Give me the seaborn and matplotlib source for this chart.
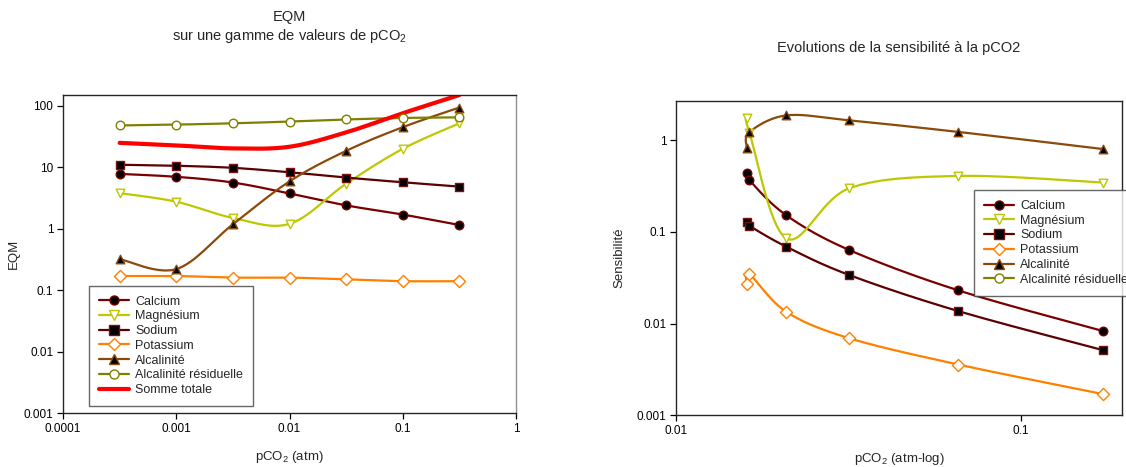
import numpy as np
import matplotlib
matplotlib.use("Agg")
import matplotlib.pyplot as plt
from matplotlib.lines import Line2D
from matplotlib.ticker import FixedLocator, FuncFormatter, NullLocator
import seaborn as sns

# --- EQM sur une gamme de pCO2 ---
pco2_eqm = [0.000316, 0.001, 0.00316, 0.01, 0.0316, 0.1, 0.316]
eqm_calcium = [7.8, 7.0, 5.65, 3.75, 2.4, 1.7, 1.15]
eqm_magnesium = [3.8, 2.75, 1.5, 1.2, 5.4, 20, 52]
eqm_sodium = [11.0, 10.6, 9.8, 8.3, 6.8, 5.7, 4.85]
eqm_potassium = [0.17, 0.17, 0.16, 0.16, 0.15, 0.14, 0.14]
eqm_alcalinite = [0.32, 0.22, 1.18, 5.9, 18.5, 45, 94]
eqm_alc_residuelle = [48, 49.5, 52, 55.5, 60, 63.5, 65]
eqm_somme = [25, 22.7, 20.3, 21.6, 37, 76, 150]

# --- Sensibilité à la pCO2 ---
pco2_sens = [0.01604, 0.01633, 0.0209, 0.0318, 0.066, 0.174]
sens_calcium = [0.446, 0.368, 0.152, 0.0636, 0.023, 0.00825]
sens_magnesium = [1.76, 1.22, 0.085, 0.30, 0.41, 0.347]
sens_sodium = [0.129, 0.117, 0.069, 0.0339, 0.01365, 0.0051]
sens_potassium = [0.0268, 0.0345, 0.0134, 0.00691, 0.00356, 0.00169]
sens_alcalinite = [0.826, 1.236, 1.88, 1.66, 1.24, 0.805]

# style des séries : (couleur ligne, marqueur, remplissage, bord)
styles = {
    "Calcium": ("#7a0000", "o", "black", "#7a0000"),
    "Magnésium": ("#bcc800", "v", "white", "#bcc800"),
    "Sodium": ("#5c0000", "s", "black", "#7a1010"),
    "Potassium": ("#ff8000", "D", "white", "#ff8000"),
    "Alcalinité": ("#8b4a0a", "^", "black", "#8b4a0a"),
    "Alcalinité résiduelle": ("#808000", "o", "white", "#808000"),
}

sns.set_style("ticks")
plt.rcParams["font.family"] = ["Liberation Sans", "DejaVu Sans"]
plt.rcParams["mathtext.default"] = "regular"


def lisse(x, y, n=30):
    # spline de Catmull-Rom dans l'espace log-log (tracé lissé type SigmaPlot)
    lx, ly = np.log10(x), np.log10(y)
    px = np.r_[lx[0], lx, lx[-1]]
    py = np.r_[ly[0], ly, ly[-1]]
    t = np.linspace(0, 1, n)
    xs, ys = [], []
    for i in range(1, len(px) - 2):
        for p, out in ((px, xs), (py, ys)):
            p0, p1, p2, p3 = p[i - 1], p[i], p[i + 1], p[i + 2]
            out.append(0.5 * ((2 * p1) + (-p0 + p2) * t
                              + (2 * p0 - 5 * p1 + 4 * p2 - p3) * t ** 2
                              + (-p0 + 3 * p1 - 3 * p2 + p3) * t ** 3))
    return 10 ** np.concatenate(xs), 10 ** np.concatenate(ys)


def trace(ax, x, y, nom):
    c, m, fc, ec = styles[nom]
    xs, ys = lisse(x, y)
    sns.lineplot(x=xs, y=ys, sort=False, estimator=None, color=c, lw=1.6, ax=ax)
    sns.scatterplot(x=x, y=y, marker=m, s=38, color=fc, edgecolor=ec,
                    linewidth=1.0, ax=ax, zorder=3)


def poignee(nom):
    c, m, fc, ec = styles[nom]
    return Line2D([], [], color=c, lw=1.6, marker=m, mfc=fc, mec=ec, ms=6.5)


fmt = FuncFormatter(lambda v, p: "{:g}".format(v))
opts_leg = dict(fontsize=9, frameon=True, fancybox=False, edgecolor="#404040",
                handlelength=2.4, handletextpad=0.5, labelspacing=0.22,
                borderpad=0.8, borderaxespad=0)

fig = plt.figure(figsize=(11.26, 4.67), dpi=100)
ax1 = fig.add_axes([0.0560, 0.1156, 0.4023, 0.6809])
ax2 = fig.add_axes([0.6004, 0.1113, 0.3961, 0.6724])

for ax in (ax1, ax2):
    ax.set_xscale("log")
    ax.set_yscale("log")

# --- graphique EQM ---
trace(ax1, pco2_eqm, eqm_calcium, "Calcium")
trace(ax1, pco2_eqm, eqm_magnesium, "Magnésium")
trace(ax1, pco2_eqm, eqm_sodium, "Sodium")
trace(ax1, pco2_eqm, eqm_potassium, "Potassium")
trace(ax1, pco2_eqm, eqm_alcalinite, "Alcalinité")
trace(ax1, pco2_eqm, eqm_alc_residuelle, "Alcalinité résiduelle")
xs, ys = lisse(pco2_eqm, eqm_somme)
sns.lineplot(x=xs, y=ys, sort=False, estimator=None, color="#ff0000", lw=3, ax=ax1)

ax1.set_xlim(1e-4, 1)
ax1.set_ylim(1e-3, 150)
ax1.xaxis.set_major_locator(FixedLocator([1e-4, 1e-3, 1e-2, 1e-1, 1]))
ax1.yaxis.set_major_locator(FixedLocator([1e-3, 1e-2, 1e-1, 1, 10, 100]))
ax1.set_xlabel("pCO$_2$ (atm)", fontsize=9.5, labelpad=10)
ax1.set_ylabel("EQM", fontsize=9.5, labelpad=3)
ax1.spines["right"].set_color("#909090")

noms = list(styles.keys())
h1 = [poignee(n) for n in noms] + [Line2D([], [], color="#ff0000", lw=3)]
leg1 = ax1.legend(h1, noms + ["Somme totale"], loc="lower left",
                  bbox_to_anchor=(0.057, 0.022), **opts_leg)
leg1.get_frame().set_linewidth(1.0)

# --- graphique sensibilité ---
trace(ax2, pco2_sens, sens_calcium, "Calcium")
trace(ax2, pco2_sens, sens_magnesium, "Magnésium")
trace(ax2, pco2_sens, sens_sodium, "Sodium")
trace(ax2, pco2_sens, sens_potassium, "Potassium")
trace(ax2, pco2_sens, sens_alcalinite, "Alcalinité")

ax2.set_xlim(0.01, 0.197)
ax2.set_ylim(1e-3, 2.7)
ax2.xaxis.set_major_locator(FixedLocator([0.01, 0.1]))
ax2.yaxis.set_major_locator(FixedLocator([1e-3, 1e-2, 1e-1, 1]))
ax2.set_xlabel("pCO$_2$ (atm-log)", fontsize=9.5, labelpad=10)
ax2.set_ylabel("Sensibilité", fontsize=9.5, labelpad=8)

h2 = [poignee(n) for n in noms]
leg2 = ax2.legend(h2, noms, loc="upper left", bbox_to_anchor=(0.668, 0.717),
                  **opts_leg)
leg2.get_frame().set_linewidth(1.0)

for ax in (ax1, ax2):
    ax.xaxis.set_minor_locator(NullLocator())
    ax.yaxis.set_minor_locator(NullLocator())
    ax.xaxis.set_major_formatter(fmt)
    ax.yaxis.set_major_formatter(fmt)
    ax.tick_params(direction="out", length=4, width=0.9, labelsize=8.5,
                   colors="black", pad=3)
    for s in ax.spines.values():
        s.set_visible(True)
        s.set_linewidth(1.0)

# titres
fig.text(0.2572, 1 - 17 / 467, "EQM", ha="center", va="center", fontsize=10.5)
fig.text(0.2572, 1 - 36 / 467, "sur une gamme de valeurs de pCO$_2$",
         ha="center", va="center", fontsize=10.5)
fig.text(0.7985, 1 - 48 / 467, "Evolutions de la sensibilité à la pCO2",
         ha="center", va="center", fontsize=10.5)

fig.savefig("out.png", dpi=100)
